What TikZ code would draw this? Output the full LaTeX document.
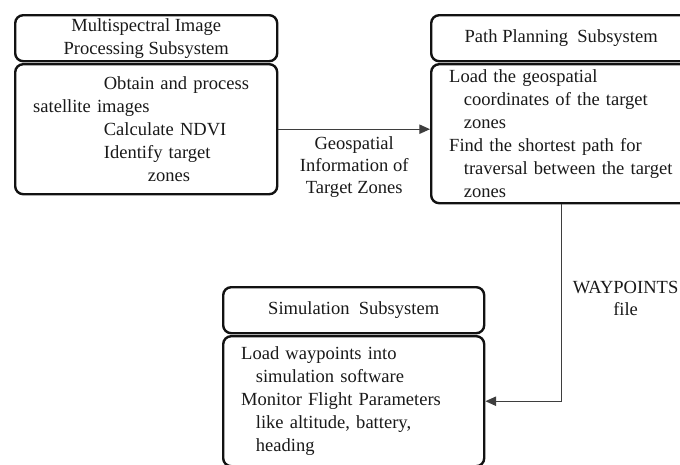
\documentclass[tikz,border=0pt]{standalone}
\usepackage{fontspec}
\setmainfont{Liberation Serif}
\usepackage{tikz}
\usetikzlibrary{arrows.meta,positioning}
\definecolor{boxline}{RGB}{18,18,18}
\definecolor{flowgray}{RGB}{62,62,62}
\definecolor{txtgray}{RGB}{25,25,25}

\begin{document}
\begin{tikzpicture}[x=0.75pt,y=-0.75pt,
    subtitle/.style={draw=boxline, line width=1.8pt, rounded corners=6pt,
        anchor=north west, align=center, inner sep=0pt,
        minimum height=34.5pt, text=txtgray,
        font=\fontsize{13.9}{17.25}\selectfont},
    subbody/.style={draw=boxline, line width=1.8pt, rounded corners=6pt,
        anchor=north west, align=left, inner xsep=13.5pt, inner ysep=0pt,
        text=txtgray, font=\fontsize{13.9}{17.25}\selectfont},
    flow/.style={draw=flowgray, line width=0.9pt,
        -{Triangle[length=8pt,width=7pt]}},
    flowlabel/.style={text=txtgray, align=center,
        font=\fontsize{13.9}{16.5}\selectfont}]

    % page
    \useasboundingbox (0,0) rectangle (680,464);
    \clip (0,0) rectangle (680,464);

    % multispectral image processing
    \node[subtitle, minimum width=196.5pt] (mipstitle) at (14,14)
        {Multispectral Image\\Processing Subsystem};
    \node[subbody, minimum width=196.5pt, text width=169.5pt, minimum height=97.5pt]
        (mipsbody) at (14,63)
        {\hspace*{53pt}Obtain and process\\
         satellite images\\
         \hspace*{53pt}Calculate NDVI\\
         \hspace*{53pt}Identify target\\
         \hspace*{86pt}zones};

    % path planning
    \node[subtitle, minimum width=195pt] (ppstitle) at (430,14)
        {Path Planning\ \ Subsystem};
    \node[subbody, minimum width=195pt, text width=168pt, minimum height=104.25pt]
        (ppsbody) at (430,63)
        {Load\ the geospatial\\
         \hspace*{11pt}coordinates of the target\\
         \hspace*{11pt}zones\\
         Find the shortest path for\\
         \hspace*{11pt}traversal between the target\\
         \hspace*{11pt}zones};

    % simulation
    \node[subtitle, minimum width=195.75pt] (simtitle) at (222,286)
        {Simulation\ \ Subsystem};
    \node[subbody, minimum width=195.75pt, text width=168.75pt, minimum height=97.5pt]
        (simbody) at (222,335)
        {Load waypoints into\\
         \hspace*{11pt}simulation software\\
         Monitor Flight Parameters\\
         \hspace*{11pt}like altitude, battery,\\
         \hspace*{11pt}heading};

    % data flow
    \draw[flow] (mipsbody.east) -- (mipsbody.east -| ppsbody.west)
        node[flowlabel, midway, below=2pt] {Geospatial\\Information of\\Target Zones};
    \draw[flow] (ppsbody.south) |- (simbody.east)
        node[flowlabel, pos=0.25, right=5pt, yshift=3pt] {WAYPOINTS\\file};

\end{tikzpicture}
\end{document}
